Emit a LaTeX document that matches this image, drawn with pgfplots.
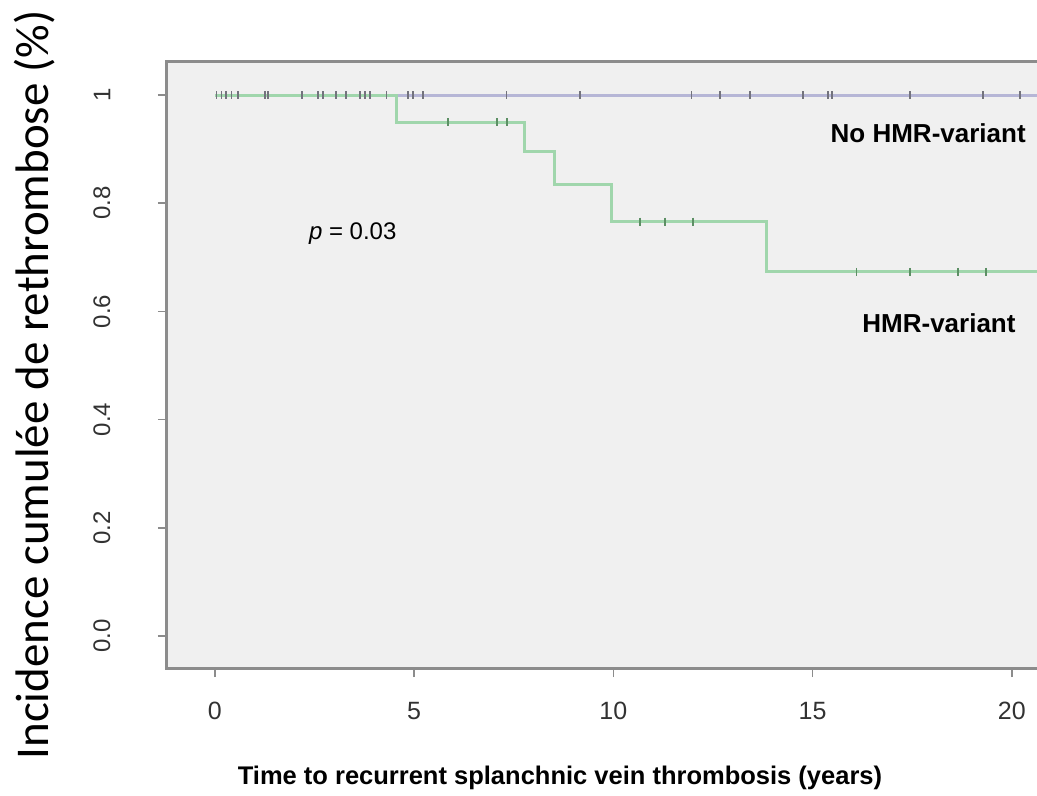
\documentclass[border=0pt]{standalone}
\usepackage{pgfplots}
\pgfplotsset{compat=1.18}
\usepackage{fontspec}
\setmainfont{Liberation Sans}
\newfontfamily\carlito{Carlito}
\definecolor{bgc}{RGB}{240,240,240}
\definecolor{framec}{RGB}{140,140,140}
\definecolor{noline}{RGB}{182,182,214}
\definecolor{hmrline}{RGB}{160,214,172}
\definecolor{censc}{RGB}{115,115,125}
\definecolor{tickc}{RGB}{50,50,50}
\begin{document}
\begin{tikzpicture}
\path[use as bounding box] (-167bp,-128bp) rectangle (870bp,668bp);
\begin{axis}[
  at={(0,0)}, anchor=south west,
  scale only axis, width=870bp, height=606bp,
  xmin=-1.2, xmax=20.63, ymin=-0.059, ymax=1.061,
  axis background/.style={fill=bgc},
  axis line style={draw=none},
  xtick={0,5,10,15,20}, xticklabels={0,5,10,15,20},
  ytick={0,0.2,0.4,0.6,0.8,1}, yticklabels={0.0,0.2,0.4,0.6,0.8,1},
  xtick pos=bottom, ytick pos=left, tick align=outside,
  major tick length=9bp,
  tick style={framec, line width=1.5bp},
  xticklabel style={font=\fontsize{25bp}{28bp}\selectfont, text=tickc},
  yticklabel style={font=\fontsize{24bp}{28bp}\selectfont, text=tickc, rotate=90, anchor=south},
  xticklabel shift=22bp,
  yticklabel shift=44bp,
  xlabel={\textbf{Time to recurrent splanchnic vein thrombosis (years)}},
  xlabel style={font=\fontsize{25.5bp}{28bp}\selectfont, at={(axis description cs:0.4517,-0.1815)}, anchor=center},
  ylabel={Incidence cumulée de rethrombose (\%)},
  ylabel style={font=\carlito\fontsize{47bp}{50bp}\selectfont, at={(axis description cs:-0.1517,0.467)}, anchor=center, rotate=0},
  clip=false,
]
% frame (left, top, bottom)
\draw[framec, line width=3bp] (rel axis cs:1,1) -- (rel axis cs:0,1) -- (rel axis cs:0,0) -- (rel axis cs:1,0);
% No HMR-variant
\addplot[noline, line width=3bp, const plot, forget plot] coordinates {(0,1) (20.63,1)};
% HMR-variant
\addplot[hmrline, line width=3bp, const plot, forget plot] coordinates {
(0,1) (4.57,0.95) (7.78,0.895) (8.53,0.834) (9.95,0.766) (13.84,0.673) (20.63,0.673)};
% censor marks
\addplot[only marks, mark=|, mark size=4bp, mark options={censc, line width=1.8bp}] coordinates {
(0.04,1) (0.17,1) (0.29,1) (0.42,1) (0.58,1) (1.25,1) (1.33,1) (2.18,1) (2.58,1) (2.71,1)
(3.05,1) (3.30,1) (3.64,1) (3.76,1) (3.89,1) (4.31,1) (4.84,1) (4.97,1) (5.22,1) (7.32,1)
(9.16,1) (11.96,1) (12.67,1) (13.43,1) (14.76,1) (15.38,1) (15.48,1) (17.44,1) (19.27,1) (20.2,1)};
\addplot[only marks, mark=|, mark size=4bp, mark options={censc!80!green, line width=1.8bp}] coordinates {
(5.85,0.95) (7.08,0.95) (7.33,0.95)
(10.66,0.766) (11.29,0.766) (12.0,0.766)
(16.1,0.673) (17.44,0.673) (18.64,0.673) (19.36,0.673)};
\node[font=\bfseries\fontsize{26bp}{30bp}\selectfont] at (axis cs:17.9,0.930) {No HMR-variant};
\node[font=\bfseries\fontsize{26bp}{30bp}\selectfont] at (axis cs:18.17,0.5786) {HMR-variant};
\node[font=\fontsize{24bp}{28bp}\selectfont] at (axis cs:3.46,0.743) {\textit{p} = 0.03};
\end{axis}
\end{tikzpicture}
\end{document}
